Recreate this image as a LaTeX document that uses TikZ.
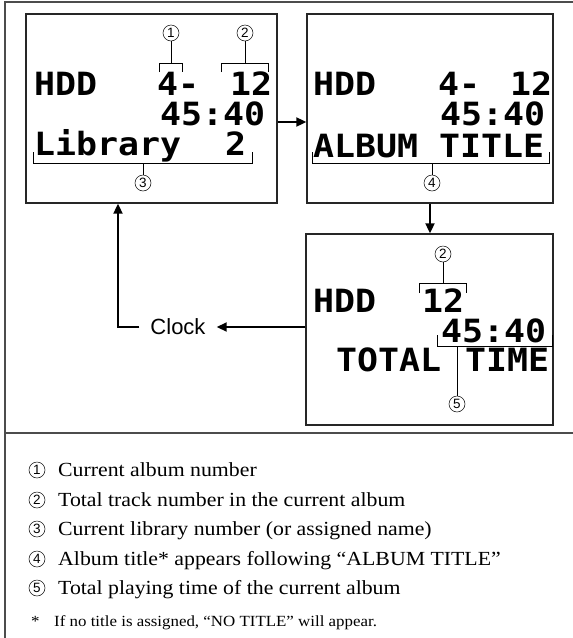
\documentclass[tikz,border=0pt]{standalone}
\usepackage{fontspec}
\setmainfont{Liberation Serif}
\newfontfamily\lcdfont{DejaVu Sans Mono}[FakeStretch=1.09]
\newfontfamily\arialfont{Liberation Sans}
\newfontfamily\legendfont{Liberation Serif}[FakeStretch=1.09]
\usetikzlibrary{arrows.meta,calc}
\begin{document}
\begin{tikzpicture}[x=1pt,y=-1pt,
  lcd/.style={font=\lcdfont\bfseries\fontsize{32}{32}\selectfont, inner sep=0pt, anchor=base west},
  screen/.style={draw=black!85, line width=1.3pt, inner sep=0pt},
  num/.style={circle, draw, line width=0.5pt, minimum size=16pt, inner sep=0pt, font=\arialfont\fontsize{13.5}{13.5}\selectfont},
  brk/.style={line width=0.7pt},
  arr/.style={line width=1.8pt, -{Triangle[length=10pt,width=9pt]}},
  frame/.style={draw=black!70, line width=1.3pt},
  legend/.style={inner sep=0pt, anchor=base west, font=\legendfont\fontsize{20}{20}\selectfont},
  foot/.style={inner sep=0pt, anchor=base west, font=\legendfont\fontsize{15.5}{15.5}\selectfont}
]
\useasboundingbox (0,0) rectangle (573,638);
% outer frame
\draw[frame] (573,2) -- (5,2) -- (5,638);
\draw[frame] (5,433) -- (573,433);

% screens
\node[screen, minimum width=251pt, minimum height=189pt] (b1) at (151.5,108.5) {};
\node[screen, minimum width=246pt, minimum height=189pt] (b2) at (430,108.5) {};
\node[screen, minimum width=247pt, minimum height=191pt] (b3) at (429.5,329.5) {};

% box 1 texts
\node[lcd] (b1hdd) at (34,95) {HDD};
\node[lcd] (b1a) at (157,95) {4-};
\node[lcd] (b1b) at (230,95) {12};
\node[lcd] (b1t) at (160,125) {45:40};
\node[lcd] (b1lib) at (34,155) {Library};
\node[lcd] (b1n) at (225,155) {2};

% box 2 texts
\node[lcd] (b2hdd) at (313,95) {HDD};
\node[lcd] (b2a) at (438,95) {4-};
\node[lcd] (b2b) at (510,95) {12};
\node[lcd] (b2t) at (440,125) {45:40};
\node[lcd] (b2al) at (313,157) {ALBUM TITLE};

% box 3 texts
\node[lcd] (b3hdd) at (313,312) {HDD};
\node[lcd] (b3b) at (422,312) {12};
\node[lcd] (b3t) at (441,342) {45:40};
\node[lcd] (b3tot) at (336,371) {TOTAL};
\node[lcd] (b3tim) at (465,371) {TIME};

% annotations box 1
\node[num] (n1) at (171,33) {1};
\draw[brk] (n1.south) -- (171,63);
\draw[brk] (159,72) -- (159,63) -- (182,63) -- (182,72);
\node[num] (n2) at (245,33) {2};
\draw[brk] (n2.south) -- (245,63);
\draw[brk] (221,72) -- (221,63) -- (268,63) -- (268,72);
\node[num] (n3) at (143,183) {3};
\draw[brk] (33,152) -- (33,163) -- (252,163) -- (252,152);
\draw[brk] (143,163) -- (n3.north);

% annotations box 2
\node[num] (n4) at (432,183) {4};
\draw[brk] (312,152) -- (312,163) -- (549,163) -- (549,152);
\draw[brk] (432,163) -- (n4.north);

% annotations box 3
\node[num] (n2b) at (443,254) {2};
\draw[brk] (n2b.south) -- (443,283);
\draw[brk] (419,293) -- (419,283) -- (466,283) -- (466,293);
\node[num] (n5) at (457,404) {5};
\draw[brk] (437,335) -- (437,346) -- (552,346) -- (552,335);
\draw[brk] (457,346) -- (n5.north);

% arrows
\coordinate (ya) at (0,122);
\draw[arr] (b1.east|-ya) -- (b2.west|-ya);
\draw[arr] (b2.south) -- (b2.south|-b3.north);
\node[inner xsep=11pt, inner ysep=0pt, font=\arialfont\fontsize{22}{22}\selectfont] (clock) at (178,327) {Clock};
\draw[arr] (b3.west|-clock) -- (clock.east);
\coordinate (c1) at (118,327);
\draw[arr] (clock.west) -- (c1) -- (c1|-b1.south);

% legend
\node[num] (l1) at (37,470) {1};
\node[legend] (t1) at (58,476) {Current album number};
\node[num] (l2) at (37,500) {2};
\node[legend] (t2) at (58,506) {Total track number in the current album};
\node[num] (l3) at (37,529) {3};
\node[legend] (t3) at (58,535) {Current library number (or assigned name)};
\node[num] (l4) at (37,559) {4};
\node[legend] (t4) at (58,565) {Album title* appears following “ALBUM TITLE”};
\node[num] (l5) at (37,588) {5};
\node[legend] (t5) at (58,594) {Total playing time of the current album};
\node[foot] (fs) at (31,626) {*};
\node[foot] (fn) at (54,626) {If no title is assigned, “NO TITLE” will appear.};
\end{tikzpicture}
\end{document}
